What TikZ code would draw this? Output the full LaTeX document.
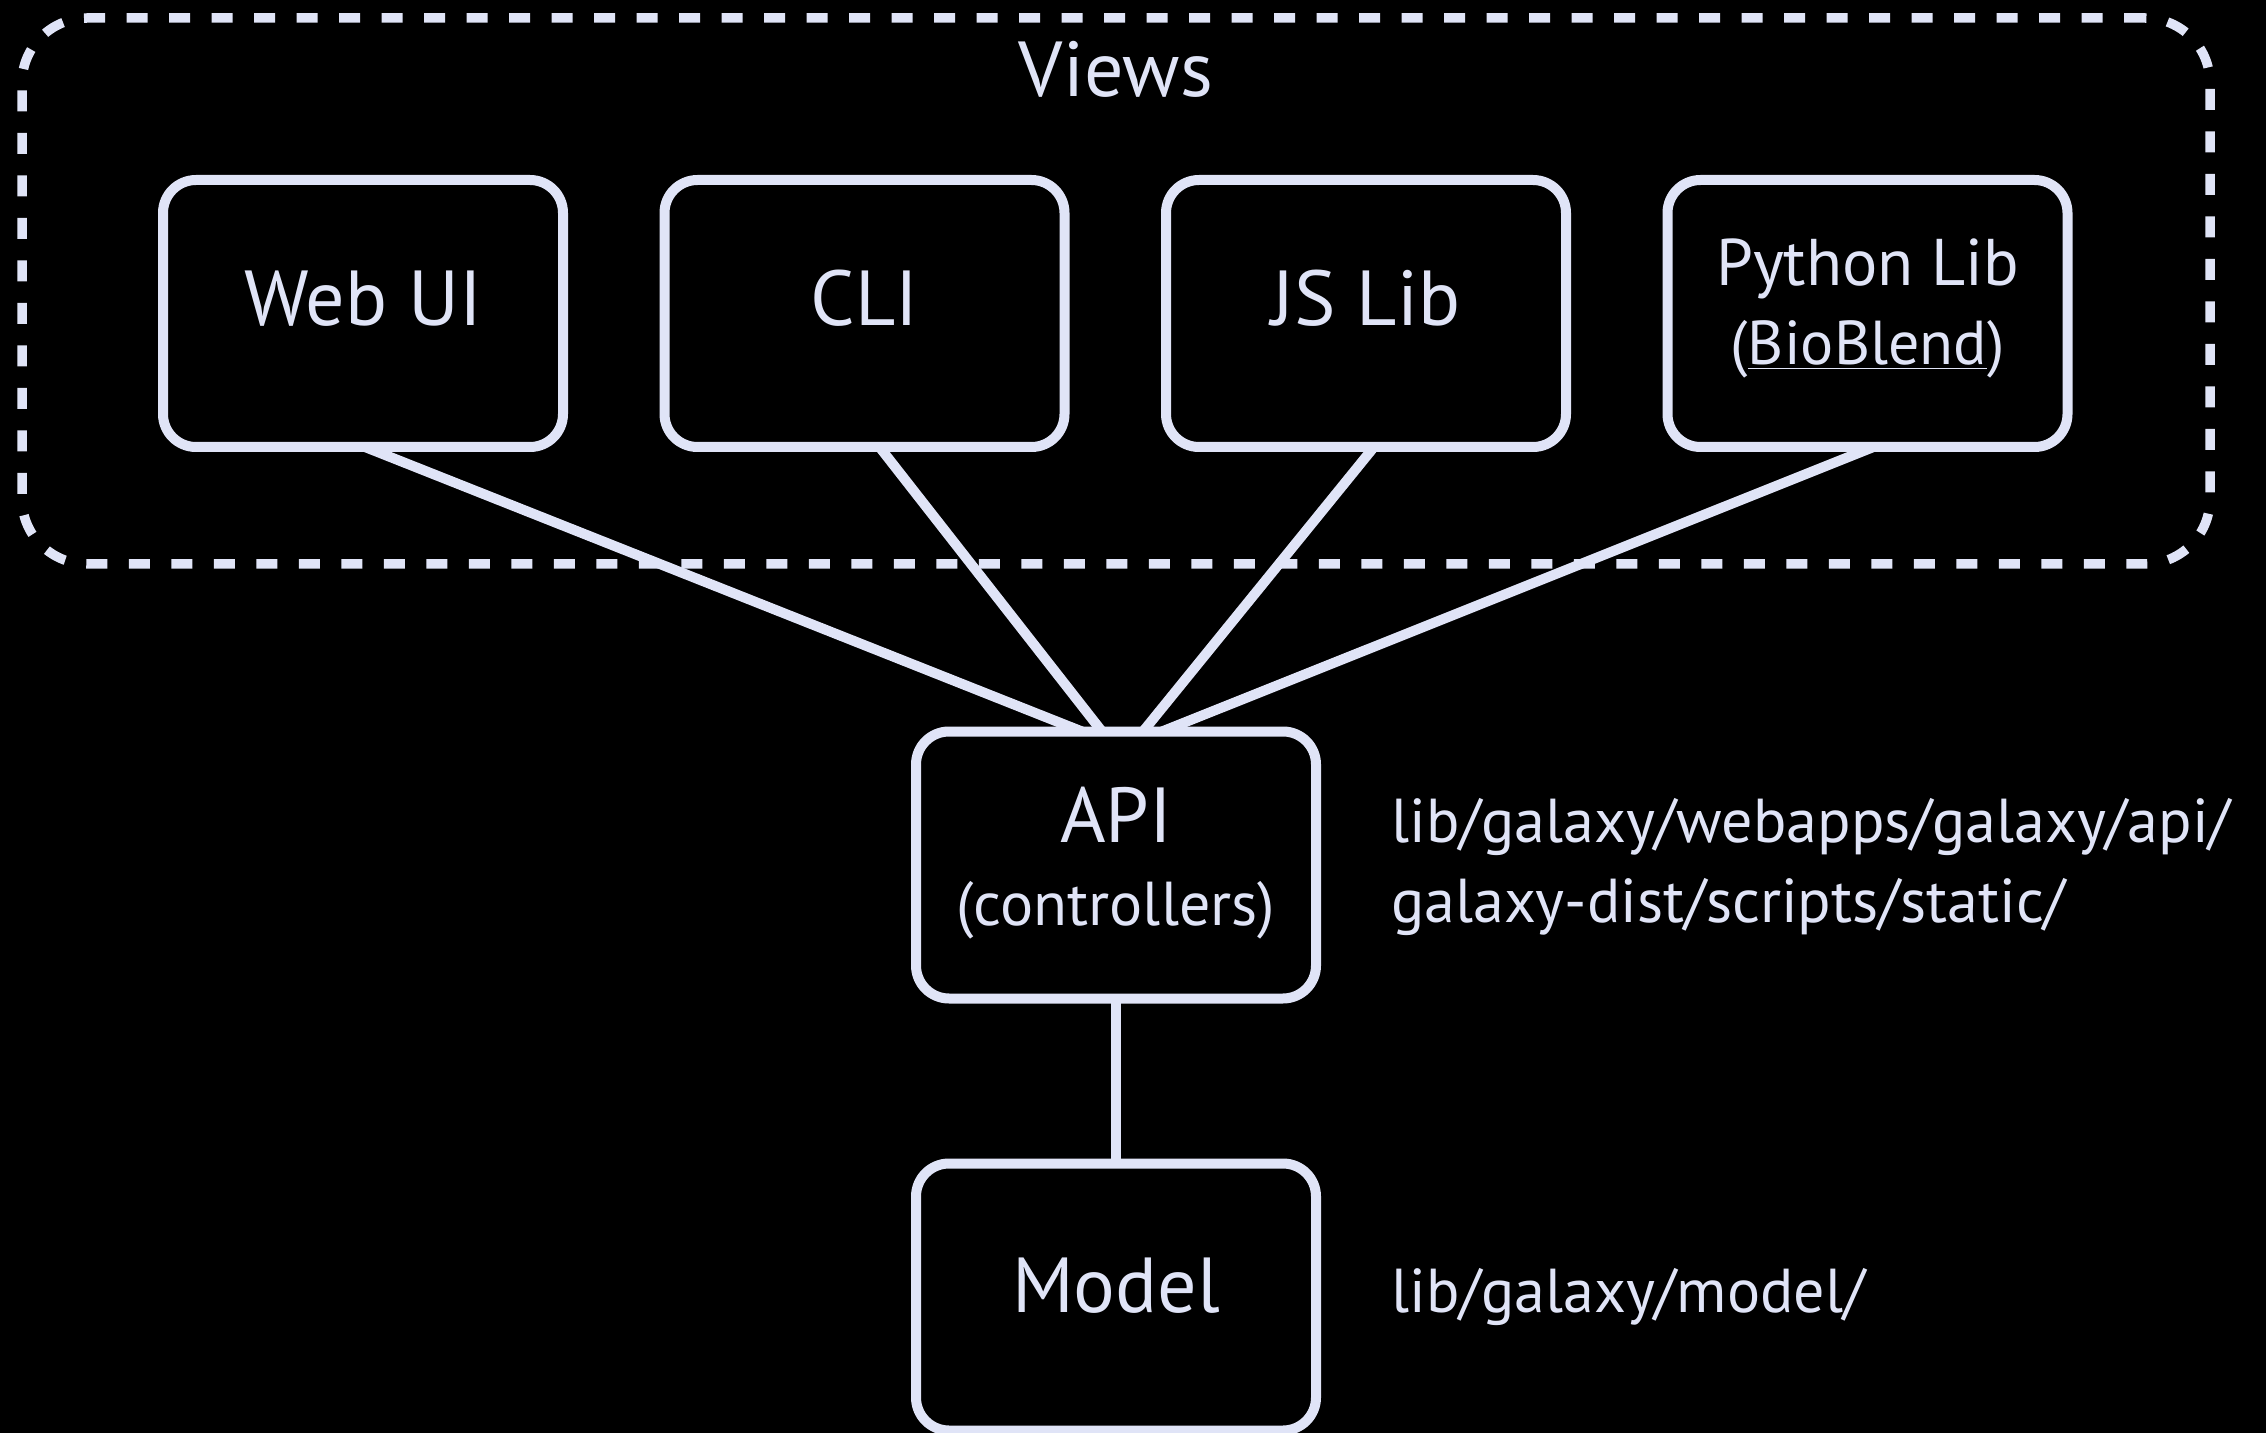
\documentclass[tikz,border=0pt]{standalone}
\usepackage{fontspec}
\setmainfont{PT Sans}
\definecolor{ink}{RGB}{224,228,247}
\newcommand\fmain{\fontsize{39pt}{47pt}\selectfont}
\newcommand\fsub{\fontsize{31pt}{37pt}\selectfont}
\newcommand\fsubw{\fontsize{33pt}{39pt}\selectfont}
\newcommand\fpath{\fontsize{31pt}{37pt}\selectfont}
\begin{document}
\begin{tikzpicture}[x=0.5pt,y=-0.5pt,
  box/.style={draw=ink, line width=5pt, rounded corners=16.5pt,
    minimum width=200pt, minimum height=133.5pt, inner sep=0pt, outer sep=0pt},
  group/.style={draw=ink, line width=4.75pt, dash pattern=on 10.5pt off 10.75pt,
    rounded corners=32.5pt, minimum width=1094pt, minimum height=273pt,
    inner sep=0pt, outer sep=0pt},
  link/.style={draw=ink, line width=5pt},
  txt/.style={text=ink, inner sep=0pt, anchor=base},
  path/.style={text=ink, inner sep=0pt, anchor=base west, font=\fpath}]

% page background
\fill[black] (0,0) rectangle (2266,1433);
\useasboundingbox (0,0) rectangle (2266,1433);

% dashed group around the view layer
\node[group] (views) at (1116,291) {};
\node[txt, font=\fmain] (viewsT) at (1116,97) {Views};

% view clients
\node[box] (webui) at (363,313.5) {};
\node[box] (cli) at (864.5,313.5) {};
\node[box] (jslib) at (1366,313.5) {};
\node[box] (pylib) at (1867.5,313.5) {};
\node[txt, font=\fmain] (webuiT) at (363,326) {Web UI};
\node[txt, font=\fmain] (cliT) at (864.5,326) {CLI};
\node[txt, font=\fmain] (jslibT) at (1366,326) {JS Lib};
\node[txt, font=\fsubw] (pylibT) at (1867.5,286) {Python Lib};
\node[txt, font=\fsub] (bioT) at (1867.5,365) {($\underline{\hbox{BioBlend}}$)};

% API and model layers
\node[box] (api) at (1116,865) {};
\node[txt, font=\fmain] (apiT) at (1116,842) {API};
\node[txt, font=\fsub] (ctrlT) at (1116,925) {(controllers)};
\node[box] (model) at (1116,1297) {};
\node[txt, font=\fmain] (modelT) at (1116,1312) {Model};

% source locations
\node[path] (apiP1) at (1391,842.5) {lib/galaxy/webapps/galaxy/api/};
\node[path] (apiP2) at (1391,922) {galaxy-dist/scripts/static/};
\node[path] (modelP) at (1391,1312) {lib/galaxy/model/};

% connectors
\draw[link] ([xshift=1pt]webui.south) -- ([xshift=-17pt]api.north);
\draw[link] ([xshift=7.5pt]cli.south) -- ([xshift=-7pt]api.north);
\draw[link] ([xshift=4pt]jslib.south) -- ([xshift=13.5pt]api.north);
\draw[link] ([xshift=3pt]pylib.south) -- ([xshift=23pt]api.north);
\draw[link] (api.south) -- (model.north);
\end{tikzpicture}
\end{document}
